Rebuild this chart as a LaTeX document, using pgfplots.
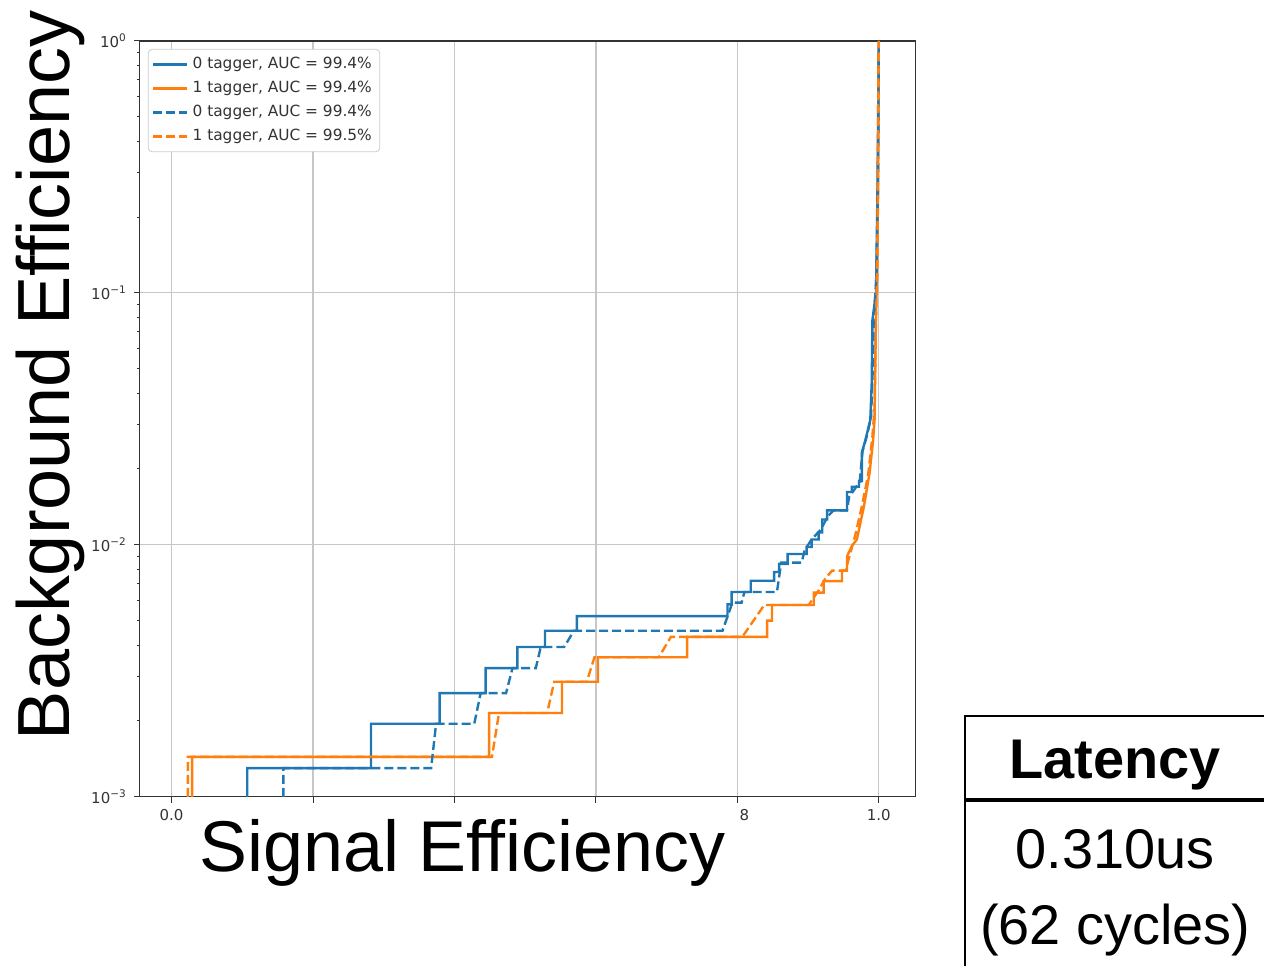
\documentclass[border=0pt]{standalone}
\usepackage{pgfplots}
\pgfplotsset{compat=1.18}
\usepackage{fontspec}
\setmainfont{Liberation Sans}
\newfontfamily\dejavu{DejaVu Sans}
\definecolor{tabblue}{HTML}{1F77B4}
\definecolor{taborange}{HTML}{FF7F0E}

\begin{document}
\begin{tikzpicture}
% picture laid out in reference pixels (1 px = 0.5 pt, y down)
\begin{scope}[x=0.5pt,y=-0.5pt]
\path[use as bounding box] (0,0) rectangle (1266,968);
\end{scope}

\begin{axis}[
    at={(70pt,-399pt)}, anchor=south west,
    scale only axis,
    width=388.5pt, height=378.5pt,
    ymode=log,
    xmin=-0.045, xmax=1.052,
    ymin=1e-3, ymax=1,
    xtick={0,0.2,0.4,0.6,0.8,1.0},
    % 0.2 to 0.8 sit under the large overlaid title: only the tail of 0.8 shows
    xticklabels={0.0,{},{},{},{\phantom{0.}8},1.0},
    ytick={1e-3,1e-2,1e-1,1},
    yticklabels={10\textsuperscript{−3},10\textsuperscript{−2},10\textsuperscript{−1},10\textsuperscript{0}},
    minor ytick={2e-3,3e-3,4e-3,5e-3,6e-3,7e-3,8e-3,9e-3,
                 2e-2,3e-2,4e-2,5e-2,6e-2,7e-2,8e-2,9e-2,
                 0.2,0.3,0.4,0.5,0.6,0.7,0.8,0.9},
    tick label style={font=\dejavu\fontsize{7.5}{8}\selectfont, black!80},
    tick align=outside, tick pos=left,
    major tick length=3pt, minor tick length=1.6pt,
    every tick/.style={black!80, line width=0.5pt},
    axis line style={black!80, line width=0.6pt},
    grid=major,
    major grid style={black!22, line width=0.6pt},
    minor grid style={draw=none},
    legend style={at={(0,1)}, anchor=north west, xshift=4pt, yshift=-4pt,
        draw=black!20, rounded corners=2pt,
        font=\dejavu\fontsize{7.7}{9}\selectfont, text=black!80,
        row sep=0.8pt, inner sep=2pt},
    legend cell align=left,
]
\addplot[tabblue, line width=1.2pt] coordinates {
    (0.107,1e-3) (0.107,1.30e-3) (0.282,1.30e-3) (0.282,1.95e-3) (0.379,1.95e-3)
    (0.379,2.58e-3) (0.444,2.58e-3) (0.444,3.24e-3) (0.489,3.24e-3) (0.489,3.93e-3)
    (0.528,3.93e-3) (0.528,4.56e-3) (0.573,4.56e-3) (0.573,5.21e-3) (0.786,5.21e-3)
    (0.786,5.8e-3) (0.792,5.8e-3) (0.792,6.5e-3) (0.819,6.5e-3) (0.819,7.2e-3)
    (0.852,7.2e-3) (0.852,7.8e-3) (0.859,7.8e-3) (0.859,8.4e-3) (0.871,8.4e-3)
    (0.871,9.2e-3) (0.898,9.2e-3) (0.898,9.8e-3) (0.905,9.8e-3) (0.905,1.05e-2)
    (0.915,1.05e-2) (0.915,1.12e-2) (0.920,1.12e-2) (0.920,1.26e-2) (0.927,1.26e-2)
    (0.927,1.37e-2) (0.955,1.37e-2) (0.955,1.62e-2) (0.962,1.62e-2) (0.962,1.70e-2)
    (0.972,1.70e-2) (0.972,1.79e-2) (0.976,1.79e-2) (0.976,2.32e-2) (0.981,2.6e-2)
    (0.988,3.13e-2) (0.990,4.4e-2) (0.991,7.8e-2) (0.996,0.1) (0.998,0.24) (1.0,1)
};
\addlegendentry{0 tagger, AUC = 99.4\%}
\addplot[taborange, line width=1.2pt] coordinates {
    (0.029,1e-3) (0.029,1.44e-3) (0.449,1.44e-3) (0.449,2.15e-3) (0.552,2.15e-3)
    (0.552,2.86e-3) (0.603,2.86e-3) (0.603,3.58e-3) (0.729,3.58e-3) (0.729,4.31e-3)
    (0.842,4.31e-3) (0.842,5.0e-3) (0.849,5.0e-3) (0.849,5.77e-3) (0.908,5.77e-3)
    (0.908,6.46e-3) (0.922,6.46e-3) (0.922,7.18e-3) (0.948,7.18e-3) (0.948,7.9e-3)
    (0.955,7.9e-3) (0.955,9.0e-3) (0.962,9.9e-3) (0.969,1.05e-2) (0.979,1.42e-2)
    (0.987,1.93e-2) (0.992,2.6e-2) (0.994,3.13e-2) (0.996,7.8e-2) (0.999,0.24) (1.0,1)
};
\addlegendentry{1 tagger, AUC = 99.4\%}
\addplot[tabblue, line width=1.2pt, dash pattern=on 4.5pt off 2pt] coordinates {
    (0.158,1e-3) (0.158,1.30e-3) (0.367,1.30e-3) (0.374,1.95e-3) (0.428,1.95e-3)
    (0.437,2.58e-3) (0.473,2.58e-3) (0.482,3.24e-3) (0.515,3.24e-3) (0.522,3.93e-3)
    (0.555,3.93e-3) (0.569,4.56e-3) (0.779,4.56e-3) (0.793,5.9e-3) (0.806,5.9e-3)
    (0.810,6.5e-3) (0.856,6.5e-3) (0.862,8.5e-3) (0.891,8.5e-3) (0.895,9.5e-3)
    (0.905,1.05e-2) (0.918,1.15e-2) (0.928,1.30e-2) (0.936,1.37e-2) (0.955,1.37e-2)
    (0.958,1.55e-2) (0.965,1.65e-2) (0.973,1.78e-2) (0.977,2.35e-2) (0.983,2.7e-2)
    (0.989,3.2e-2) (0.991,4.5e-2) (0.993,8.0e-2) (0.997,0.12) (0.999,0.3) (1.0,1)
};
\addlegendentry{0 tagger, AUC = 99.4\%}
\addplot[taborange, line width=1.2pt, dash pattern=on 4.5pt off 2pt] coordinates {
    (0.023,1e-3) (0.023,1.44e-3) (0.453,1.44e-3) (0.463,2.15e-3) (0.531,2.15e-3)
    (0.541,2.86e-3) (0.587,2.86e-3) (0.598,3.58e-3) (0.689,3.58e-3) (0.706,4.31e-3)
    (0.807,4.31e-3) (0.838,5.77e-3) (0.901,5.77e-3) (0.915,6.6e-3) (0.925,7.4e-3)
    (0.934,7.9e-3) (0.953,7.9e-3) (0.967,1.10e-2) (0.976,1.42e-2) (0.985,1.9e-2)
    (0.991,2.7e-2) (0.994,3.5e-2) (0.996,8.0e-2) (0.998,0.12) (0.999,0.5) (1.0,1)
};
\addlegendentry{1 tagger, AUC = 99.5\%}
\end{axis}

\begin{scope}[x=0.5pt,y=-0.5pt]
% large overlaid axis titles
\node[anchor=base, inner sep=0pt, font=\fontsize{36}{40}\selectfont] at (463,873) {Signal Efficiency};
\node[anchor=base, rotate=90, inner sep=0pt, font=\fontsize{37}{40}\selectfont] at (70,376) {Background Efficiency};
% latency table
\draw[line width=1pt] (967,968) -- (967,717) -- (1266,717);
\draw[line width=2pt] (966,801) -- (1266,801);
\node[anchor=base, inner sep=0pt, font=\bfseries\fontsize{28}{30}\selectfont] at (1117,780) {Latency};
\node[anchor=base, inner sep=0pt, font=\fontsize{28}{30}\selectfont] at (1117,870) {0.310us};
\node[anchor=base, inner sep=0pt, font=\fontsize{28}{30}\selectfont] at (1117,946) {(62 cycles)};
\end{scope}
\end{tikzpicture}
\end{document}
